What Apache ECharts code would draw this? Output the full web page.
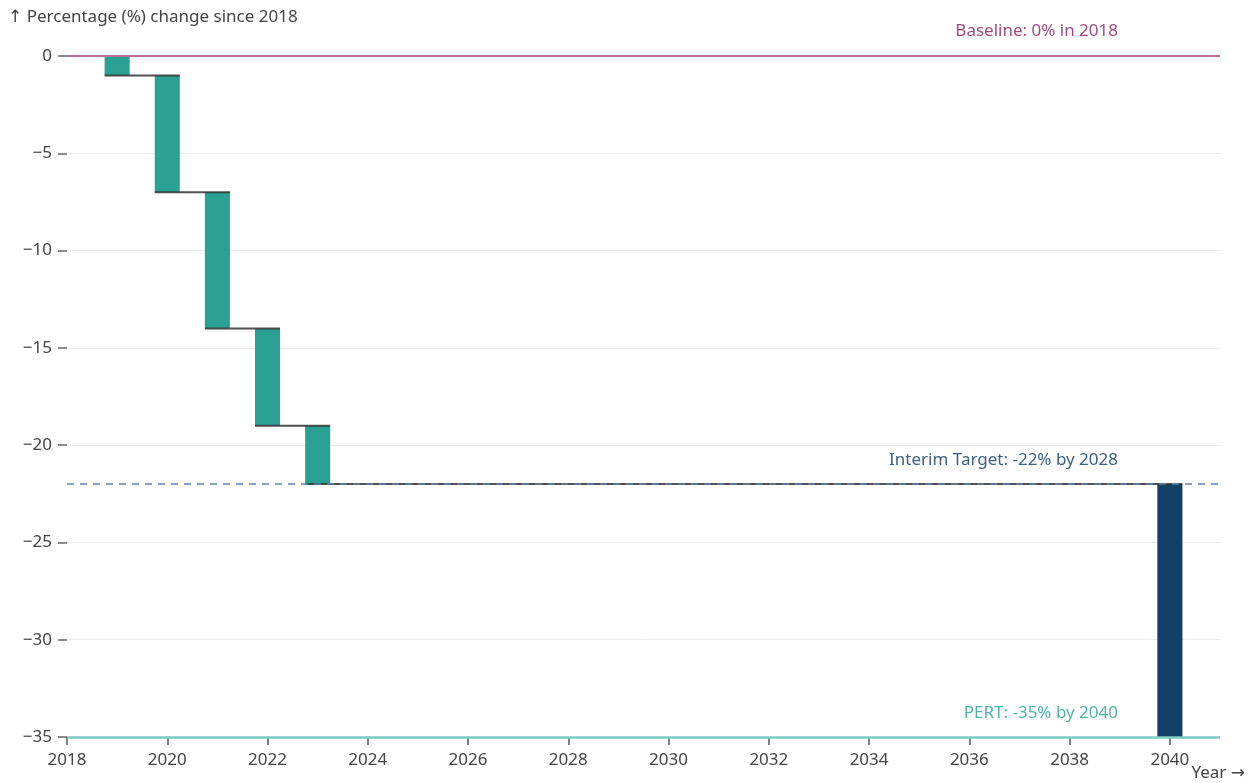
<!DOCTYPE html>
<html>
<head>
<meta charset="utf-8">
<script src="https://cdn.jsdelivr.net/npm/echarts@6/dist/echarts.min.js"></script>
<style>
  html, body { margin: 0; padding: 0; background: #fff; }
  #chart { width: 1255px; height: 783px; }
</style>
</head>
<body>
<div id="chart"></div>
<script>
// yearly steps of the waterfall (percentage points)
var years = [2019, 2020, 2021, 2022, 2023, 2040];
var changes = [-1, -6, -7, -5, -3, -13];
var barColors = ['#2aa193', '#2aa193', '#2aa193', '#2aa193', '#2aa193', '#123f66'];

var xTicks = [2018, 2020, 2022, 2024, 2026, 2028, 2030, 2032, 2034, 2036, 2038, 2040];

var baseline = 0;
var interim = -22;
var pert = -35;

var FONT = '"Noto Sans", "DejaVu Sans", sans-serif';
var FS = 17;

// build start / end of each step
var bars = [];
var run = 0;
for (var i = 0; i < years.length; i++) {
  bars.push([years[i], run, run + changes[i], i]);
  run += changes[i];
}
// connectors: from left of bar i to right of bar i+1, at end of bar i
var links = [];
for (var j = 0; j < bars.length - 1; j++) {
  links.push([bars[j][0], bars[j + 1][0], bars[j][2]]);
}

var half = 0.25;

var myChart = echarts.init(document.getElementById('chart'));
var option = {
  animation: false,
  grid: { left: 67, right: 35, top: 56, bottom: 46 },
  xAxis: {
    type: 'value',
    min: 2018,
    max: 2041,
    interval: 2,
    axisLine: { show: false, onZero: false },
    splitLine: { show: false },
    axisTick: { show: true, length: 8, customValues: xTicks, lineStyle: { color: '#555', width: 1.5 } },
    axisLabel: {
      customValues: xTicks, color: '#444', fontSize: FS, fontFamily: FONT, margin: 15,
      formatter: function (v) { return String(v); }
    }
  },
  yAxis: {
    type: 'value',
    min: -35,
    max: 0,
    interval: 5,
    axisLine: { show: false },
    axisTick: { show: true, length: 9, lineStyle: { color: '#666', width: 1.5 } },
    splitLine: { show: true, lineStyle: { color: '#ebebeb', width: 1 } },
    axisLabel: {
      color: '#444', fontSize: FS, fontFamily: FONT, margin: 15,
      formatter: function (v) { return v < 0 ? '\u2212' + Math.abs(v) : String(v); }
    }
  },
  graphic: [
    { type: 'text', left: 8, top: 9, style: { text: '\u2191 Percentage (%) change since 2018', fill: '#444', font: FS + 'px ' + FONT } },
    { type: 'text', right: 10, top: 765, style: { text: 'Year \u2192', fill: '#444', font: FS + 'px ' + FONT } }
  ],
  series: [
    {
      type: 'custom',
      z: 2,
      renderItem: function (params, api) {
        var p1 = api.coord([api.value(0) - half, api.value(1)]);
        var p2 = api.coord([api.value(0) + half, api.value(2)]);
        return {
          type: 'rect',
          shape: { x: p1[0], y: p1[1], width: p2[0] - p1[0], height: p2[1] - p1[1] },
          style: { fill: barColors[api.value(3)] }
        };
      },
      data: bars
    },
    {
      type: 'custom',
      z: 3,
      renderItem: function (params, api) {
        var a = api.coord([api.value(0) - half, api.value(2)]);
        var b = api.coord([api.value(1) + half, api.value(2)]);
        return {
          type: 'line',
          shape: { x1: a[0], y1: a[1], x2: b[0], y2: b[1] },
          style: { stroke: '#333', lineWidth: 2, opacity: 0.85 }
        };
      },
      data: links
    },
    {
      type: 'line',
      data: [],
      z: 4,
      markLine: {
        silent: true,
        symbol: 'none',
        animation: false,
        data: [
          {
            yAxis: baseline,
            lineStyle: { color: '#b5709a', width: 2, type: 'solid' },
            label: { show: true, position: 'insideEndTop', formatter: 'Baseline: 0% in 2018', color: '#a54a80', fontSize: FS, fontFamily: FONT, distance: [102, 16] }
          },
          {
            yAxis: interim,
            lineStyle: { color: '#5b86b0', width: 1.5, type: [7, 6] },
            label: { show: true, position: 'insideEndTop', formatter: 'Interim Target: -22% by 2028', color: '#3e6185', fontSize: FS, fontFamily: FONT, distance: [102, 15] }
          },
          {
            yAxis: pert,
            lineStyle: { color: '#7ccbc0', width: 2.5, type: 'solid' },
            label: { show: true, position: 'insideEndTop', formatter: 'PERT: -35% by 2040', color: '#4db6a6', fontSize: FS, fontFamily: FONT, distance: [102, 15] }
          }
        ]
      }
    }
  ]
};
myChart.setOption(option);
</script>
</body>
</html>
